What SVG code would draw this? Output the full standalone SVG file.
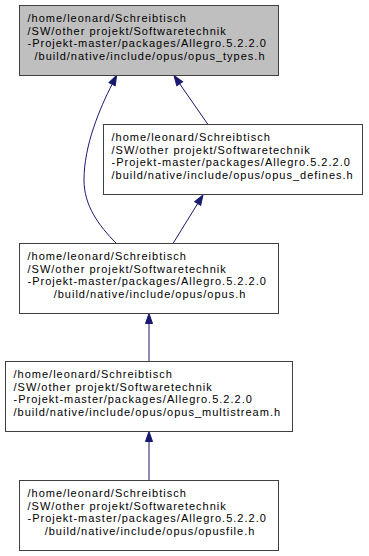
<svg xmlns="http://www.w3.org/2000/svg" width="369" height="556" viewBox="0 0 369 556">
  <style>
    .box { fill: #ffffff; stroke: #404040; stroke-width: 1; }
    .box.current { fill: #bfbfbf; }
    .lbl { font-family: "Liberation Sans", Arial, Helvetica, sans-serif; font-size: 11px; letter-spacing: 1px; fill: #000000; }
    .mid { text-anchor: middle; }
    .edge { fill: none; stroke: #191970; stroke-width: 1; marker-end: url(#head); }
  </style>
  <defs>
    <marker id="head" markerUnits="userSpaceOnUse" markerWidth="12" markerHeight="9" viewBox="-1 -1 12 9" refX="0" refY="3.5" orient="auto">
      <path d="M0,0 L10,3.5 L0,7 Z" fill="#191970" stroke="#191970" stroke-width="1"/>
    </marker>
  </defs>

  <rect width="369" height="556" fill="#ffffff"/>

  <!-- include dependencies -->
  <g id="edges">
    <path class="edge" d="M208,124.5 L179.7,83.8"/>
    <path class="edge" d="M116.5,243.5 C98,225 84,205 84,180 C84,145 100,108 112.1,84.2"/>
    <path class="edge" d="M173,243.5 L197.7,203.5"/>
    <path class="edge" d="M149,361.5 L149,323.5"/>
    <path class="edge" d="M149,480.5 L149,441.5"/>
  </g>

  <g id="node-opus-types">
    <rect class="box current" x="19.5" y="5.5" width="259" height="70"/>
    <text class="lbl" x="27.5" y="22">/home/leonard/Schreibtisch</text>
    <text class="lbl" x="27.5" y="34.5">/SW/other projekt/Softwaretechnik</text>
    <text class="lbl" x="27.5" y="47">-Projekt-master/packages/Allegro.5.2.2.0</text>
    <text class="lbl mid" x="150" y="59.5">/build/native/include/opus/opus_types.h</text>
  </g>

  <g id="node-opus-defines">
    <rect class="box" x="103.5" y="124.5" width="259" height="70"/>
    <text class="lbl" x="111.5" y="141">/home/leonard/Schreibtisch</text>
    <text class="lbl" x="111.5" y="153.5">/SW/other projekt/Softwaretechnik</text>
    <text class="lbl" x="111.5" y="166">-Projekt-master/packages/Allegro.5.2.2.0</text>
    <text class="lbl" x="111.5" y="178.5">/build/native/include/opus/opus_defines.h</text>
  </g>

  <g id="node-opus">
    <rect class="box" x="19.5" y="243.5" width="259" height="70"/>
    <text class="lbl" x="27.5" y="260">/home/leonard/Schreibtisch</text>
    <text class="lbl" x="27.5" y="272.5">/SW/other projekt/Softwaretechnik</text>
    <text class="lbl" x="27.5" y="285">-Projekt-master/packages/Allegro.5.2.2.0</text>
    <text class="lbl mid" x="150" y="297.5">/build/native/include/opus/opus.h</text>
  </g>

  <g id="node-opus-multistream">
    <rect class="box" x="5.5" y="361.5" width="287" height="70"/>
    <text class="lbl" x="13.5" y="378">/home/leonard/Schreibtisch</text>
    <text class="lbl" x="13.5" y="390.5">/SW/other projekt/Softwaretechnik</text>
    <text class="lbl" x="13.5" y="403">-Projekt-master/packages/Allegro.5.2.2.0</text>
    <text class="lbl" x="13.5" y="415.5">/build/native/include/opus/opus_multistream.h</text>
  </g>

  <g id="node-opusfile">
    <rect class="box" x="19.5" y="480.5" width="259" height="70"/>
    <text class="lbl" x="27.5" y="497">/home/leonard/Schreibtisch</text>
    <text class="lbl" x="27.5" y="509.5">/SW/other projekt/Softwaretechnik</text>
    <text class="lbl" x="27.5" y="522">-Projekt-master/packages/Allegro.5.2.2.0</text>
    <text class="lbl mid" x="150" y="534.5">/build/native/include/opus/opusfile.h</text>
  </g>
</svg>
